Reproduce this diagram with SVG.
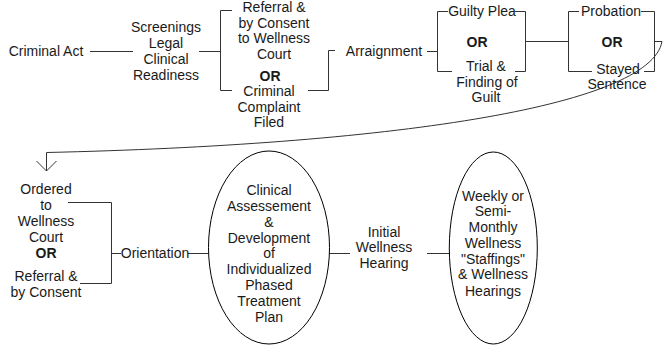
<svg xmlns="http://www.w3.org/2000/svg" width="663" height="345" viewBox="0 0 663 345">
<defs>
<style>
text{font-family:"Liberation Sans",Arial,sans-serif;font-size:14px;fill:#1a1a1a;text-anchor:middle}
.b{font-weight:bold}
.c{fill:none;stroke:#333;stroke-width:1}
.e{fill:#fff;stroke:#000;stroke-width:1}
</style>
<marker id="arr" markerWidth="24" markerHeight="24" refX="12" refY="12" orient="auto" markerUnits="userSpaceOnUse">
<path d="M2,2 L12,12 L2,22" fill="none" stroke="#333" stroke-width="1"/>
</marker>
</defs>
<rect width="663" height="345" fill="#fff"/>
<g id="connectors">
<path class="c" d="M90,51.5 H133"/>
<path class="c" d="M199,51.5 H221"/>
<path class="c" d="M232,10.5 H220.5 V90.5 H232"/>
<path class="c" d="M308,90.5 H328.5 V50.5 H335"/>
<path class="c" d="M427,51.5 H437"/>
<path class="c" d="M448,11.5 H437.5 V71.5 H452"/>
<path class="c" d="M515,11.5 H525.5 V71.5 H515"/>
<path class="c" d="M525.5,41.5 H568"/>
<path class="c" d="M579,11.5 H568.5 V71.5 H592"/>
<path class="c" d="M641,11.5 H654.5 V71.5 H644"/>
<path class="c" d="M654.5,41.5 H662 C650,108 380,145 46.5,152.5 V171" marker-end="url(#arr)"/>
<path class="c" d="M68,202.5 H111.5 V283.5 H80"/>
<path class="c" d="M111.5,253.5 H121"/>
<path class="c" d="M188,253.5 H209"/>
<path class="c" d="M329,253.5 H350"/>
<path class="c" d="M427,253.5 H449.5"/>
</g>
<g id="criminal-act"><text x="46" y="56">Criminal Act</text></g>
<g id="screenings">
<text x="166" y="32">Screenings</text>
<text x="166" y="48">Legal</text>
<text x="166" y="64">Clinical</text>
<text x="166" y="80">Readiness</text>
</g>
<g id="referral-or-complaint">
<text x="274" y="12">Referral &amp;</text>
<text x="274" y="28">by Consent</text>
<text x="274" y="43">to Wellness</text>
<text x="274" y="59">Court</text>
<text x="270" y="81" class="b">OR</text>
<text x="269" y="96">Criminal</text>
<text x="269" y="112">Complaint</text>
<text x="269" y="127">Filed</text>
</g>
<g id="arraignment"><text x="384" y="56">Arraignment</text></g>
<g id="plea-or-trial">
<text x="482" y="16">Guilty Plea</text>
<text x="477" y="47" class="b">OR</text>
<text x="486" y="71">Trial &amp;</text>
<text x="487" y="87">Finding of</text>
<text x="486" y="102">Guilt</text>
</g>
<g id="probation-or-stayed">
<text x="611" y="16">Probation</text>
<text x="612" y="47" class="b">OR</text>
<text x="618" y="74">Stayed</text>
<text x="617" y="89">Sentence</text>
</g>
<g id="ordered-or-referral">
<text x="46" y="194">Ordered</text>
<text x="46" y="210">to</text>
<text x="46" y="226">Wellness</text>
<text x="46" y="242">Court</text>
<text x="46" y="258" class="b">OR</text>
<text x="46" y="281">Referral &amp;</text>
<text x="46" y="297">by Consent</text>
</g>
<g id="orientation"><text x="155" y="258">Orientation</text></g>
<g id="clinical-assessment">
<ellipse class="e" cx="269" cy="247.5" rx="60.5" ry="96.5"/>
<text x="269" y="195">Clinical</text>
<text x="269" y="211">Assessement</text>
<text x="269" y="227">&amp;</text>
<text x="269" y="243">Development</text>
<text x="269" y="258">of</text>
<text x="269" y="274">Individualized</text>
<text x="269" y="290">Phased</text>
<text x="269" y="306">Treatment</text>
<text x="269" y="322">Plan</text>
</g>
<g id="initial-hearing">
<text x="384" y="237">Initial</text>
<text x="384" y="252">Wellness</text>
<text x="384" y="268">Hearing</text>
</g>
<g id="weekly-staffings">
<ellipse class="e" cx="493.3" cy="248" rx="44" ry="96"/>
<text x="493" y="201">Weekly or</text>
<text x="493" y="216">Semi-</text>
<text x="493" y="232">Monthly</text>
<text x="493" y="248">Wellness</text>
<text x="493" y="264">"Staffings"</text>
<text x="493" y="279">&amp; Wellness</text>
<text x="493" y="296">Hearings</text>
</g>
</svg>
